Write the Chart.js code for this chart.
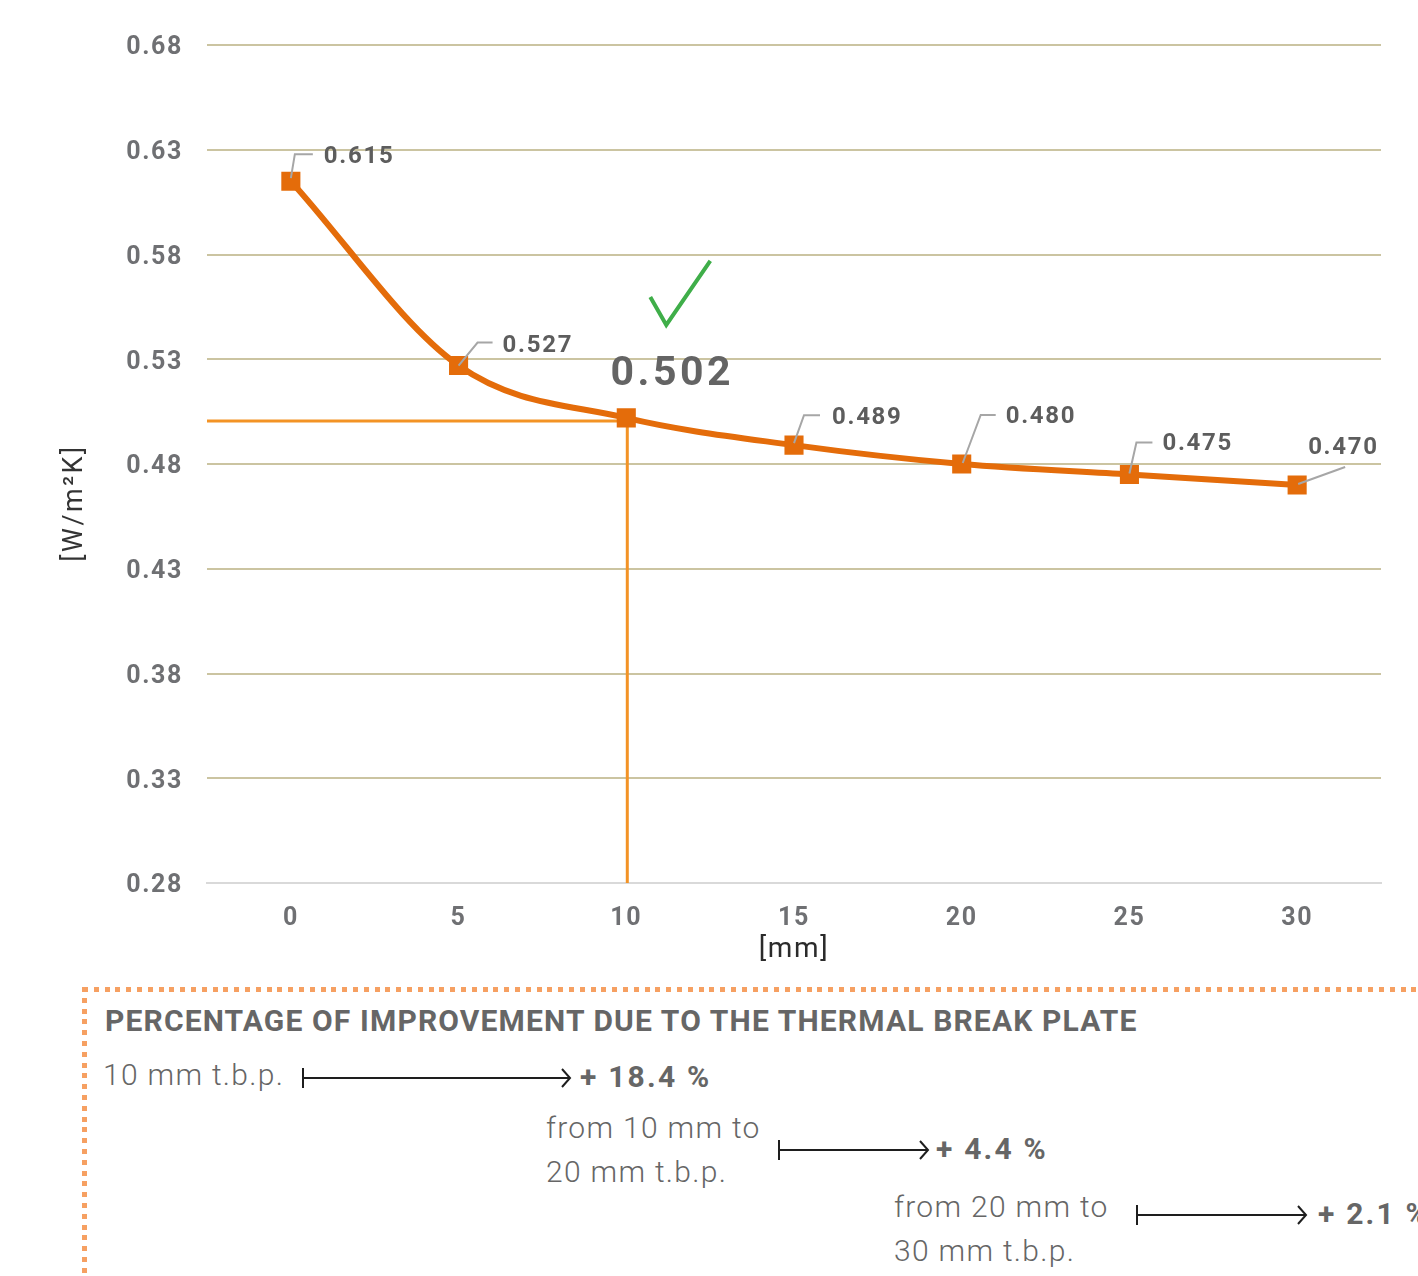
<!DOCTYPE html>
<html>
<head>
<meta charset="utf-8">
<title>Thermal transmittance vs. thermal break plate thickness</title>
<script src="https://cdn.jsdelivr.net/npm/chart.js@4.4.1/dist/chart.umd.min.js"></script>
<style>
  html, body { margin: 0; padding: 0; background: #ffffff; }
  body { width: 1418px; height: 1276px; position: relative; overflow: hidden; font-family: Roboto, "Open Sans", sans-serif; }
  #chartBox { position: absolute; left: 0; top: 0; width: 1418px; height: 975px; }
  .dots-h { position: absolute; left: 83px; top: 987px; width: 1340px; height: 5px;
    background: repeating-linear-gradient(90deg, #f6a062 0 5px, transparent 5px 10.8px); }
  .dots-v { position: absolute; left: 82px; top: 987px; width: 5px; height: 300px;
    background: repeating-linear-gradient(180deg, #f6a062 0 5px, transparent 5px 10.8px); }
  .txt { position: absolute; white-space: nowrap; color: #666666; font-size: 30px; line-height: 44px; }
  .title { font-weight: 700; letter-spacing: 1.15px; }
  .light { font-weight: 300; letter-spacing: 1.3px; }
  .pct { font-weight: 700; letter-spacing: 2.2px; }
  svg.arrows { position: absolute; left: 0; top: 0; }
</style>
</head>
<body>
<div id="chartBox"><canvas id="chart" width="1418" height="975"></canvas></div>

<div class="dots-h"></div>
<div class="dots-v"></div>
<div id="panel"></div>
<svg class="arrows" id="arrows" width="1418" height="1276"></svg>

<script>
// U-value of the assembly for each thermal break plate thickness
const thicknessLabels = ['0', '5', '10', '15', '20', '25', '30'];
const uValues = [0.615, 0.527, 0.502, 0.489, 0.480, 0.475, 0.470];
const highlightIndex = 2;           // 10 mm plate, the recommended option

// value axis range and tick step
const Y_MIN = 0.28;
const Y_MAX = 0.68;
const Y_STEP = 0.05;
const yAxisTitle = '[W/m²K]';
const xAxisTitle = '[mm]';

// improvement summary rows shown under the chart
const improvementLines = [
  ['10 mm t.b.p.'],
  ['from 10 mm to', '20 mm t.b.p.'],
  ['from 20 mm to', '30 mm t.b.p.']
];
const improvementValues = ['+ 18.4 %', '+ 4.4 %', '+ 2.1 %'];

// ---- styling ----
const LINE_ORANGE = '#e46c0a';
const GUIDE_ORANGE = '#f39325';
const GRID_KHAKI = '#cbc4a1';
const TICK_GREY = '#6f7073';
const LABEL_GREY = '#5d5d5d';

// leader lines and label placement for each point, offsets in px from the point
const labelLayout = [
  { path: [[0, -3], [4, -27], [22, -27]], text: [33, -24] },
  { path: [[0, 0], [19, -23], [34, -23]], text: [44, -20] },
  null,
  { path: [[0, -2], [10, -30], [26, -30]], text: [38, -27] },
  { path: [[1, -1], [19, -49], [34, -49]], text: [44, -47] },
  { path: [[0, -1], [7, -32], [23, -32]], text: [33, -30] },
  { path: [[1, -1], [48, -18]], text: [11, -37] }
];

Chart.defaults.font.family = 'Roboto, "Open Sans", sans-serif';

const spacingPlugin = {
  id: 'spacing',
  beforeDraw(chart) { chart.ctx.letterSpacing = '1.6px'; }
};

// 10 mm reference lines: horizontal to the axis and vertical down to the baseline
const guidePlugin = {
  id: 'guides',
  beforeDatasetsDraw(chart) {
    const { ctx, chartArea, scales } = chart;
    const x = scales.x.getPixelForValue(highlightIndex);
    const y = scales.y.getPixelForValue(uValues[highlightIndex]) + 3;
    ctx.save();
    ctx.strokeStyle = GUIDE_ORANGE;
    ctx.lineWidth = 3;
    ctx.beginPath();
    ctx.moveTo(chartArea.left, y);
    ctx.lineTo(x + 1, y);
    ctx.lineTo(x + 1, chartArea.bottom);
    ctx.stroke();
    ctx.restore();
  }
};

// rotated unit title of the value axis
const yTitlePlugin = {
  id: 'yTitle',
  afterDraw(chart) {
    const { ctx } = chart;
    ctx.save();
    ctx.letterSpacing = '2.5px';
    ctx.translate(75, 503);
    ctx.rotate(-Math.PI / 2);
    ctx.fillStyle = '#333333';
    ctx.font = '27px Roboto, "Open Sans", sans-serif';
    ctx.textAlign = 'center';
    ctx.textBaseline = 'middle';
    ctx.fillText(yAxisTitle, 0, 0);
    ctx.restore();
  }
};

// value labels with leader lines, the highlighted value and the tick mark
const labelPlugin = {
  id: 'valueLabels',
  afterDatasetsDraw(chart) {
    const { ctx } = chart;
    const pts = chart.getDatasetMeta(0).data;
    ctx.save();
    ctx.letterSpacing = '1.7px';
    pts.forEach((p, i) => {
      const lay = labelLayout[i];
      if (!lay) return;
      ctx.strokeStyle = '#a6a6a6';
      ctx.lineWidth = 2;
      ctx.beginPath();
      lay.path.forEach(([dx, dy], k) => {
        if (k === 0) ctx.moveTo(p.x + dx, p.y + dy); else ctx.lineTo(p.x + dx, p.y + dy);
      });
      ctx.stroke();
      ctx.fillStyle = LABEL_GREY;
      ctx.font = 'bold 24px Roboto, "Open Sans", sans-serif';
      ctx.textAlign = 'left';
      ctx.textBaseline = 'middle';
      ctx.fillText(uValues[i].toFixed(3), p.x + lay.text[0], p.y + lay.text[1]);
    });

    const h = pts[highlightIndex];
    ctx.letterSpacing = '3.5px';
    ctx.fillStyle = '#646464';
    ctx.font = 'bold 41px Roboto, "Open Sans", sans-serif';
    ctx.textAlign = 'center';
    ctx.textBaseline = 'middle';
    ctx.fillText(uValues[highlightIndex].toFixed(3), h.x + 46, h.y - 43);

    ctx.strokeStyle = '#3fae49';
    ctx.lineWidth = 4;
    ctx.lineJoin = 'miter';
    ctx.beginPath();
    ctx.moveTo(h.x + 24, h.y - 121);
    ctx.lineTo(h.x + 40, h.y - 93);
    ctx.lineTo(h.x + 84, h.y - 157);
    ctx.stroke();
    ctx.restore();
  }
};

new Chart(document.getElementById('chart'), {
  type: 'line',
  data: {
    labels: thicknessLabels,
    datasets: [{
      data: uValues,
      borderColor: LINE_ORANGE,
      backgroundColor: LINE_ORANGE,
      borderWidth: 6,
      cubicInterpolationMode: 'monotone',
      pointStyle: 'rect',
      pointRadius: 13.5,
      pointHoverRadius: 13.5,
      pointBorderWidth: 0,
      pointBackgroundColor: LINE_ORANGE
    }]
  },
  options: {
    responsive: false,
    animation: false,
    events: [],
    layout: { padding: { top: 45, right: 37, left: 0, bottom: 0 } },
    plugins: { legend: { display: false }, tooltip: { enabled: false } },
    scales: {
      x: {
        type: 'category',
        offset: true,
        grid: { display: false, drawTicks: false },
        border: { display: true, color: '#d9d9d9', width: 2 },
        ticks: {
          padding: 21,
          color: TICK_GREY,
          font: { size: 25, weight: 'bold' }
        },
        title: {
          display: true,
          text: xAxisTitle,
          color: '#2b2b2b',
          font: { size: 28, weight: 'normal' },
          padding: { top: 0, bottom: 8 }
        },
        afterFit(scale) { scale.height = 92; }
      },
      y: {
        min: Y_MIN,
        max: Y_MAX,
        grid: {
          drawTicks: false,
          lineWidth: 2,
          color: (c) => (c.tick && Math.abs(c.tick.value - Y_MIN) < 1e-6) ? 'rgba(0,0,0,0)' : GRID_KHAKI
        },
        border: { display: false },
        ticks: {
          stepSize: Y_STEP,
          padding: 24,
          labelOffset: 3,
          color: TICK_GREY,
          font: { size: 25, weight: 'bold' },
          callback: (v) => v.toFixed(2)
        },
        title: { display: false },
        afterFit(scale) { scale.width = 207; }
      }
    }
  },
  plugins: [spacingPlugin, guidePlugin, labelPlugin, yTitlePlugin]
});

// ---- improvement summary ----
const panel = document.getElementById('panel');
function addText(cls, text, left, centerY) {
  const d = document.createElement('div');
  d.className = 'txt ' + cls;
  d.textContent = text;
  d.style.left = left + 'px';
  d.style.top = (centerY - 22) + 'px';
  panel.appendChild(d);
}
addText('title', 'PERCENTAGE OF IMPROVEMENT DUE TO THE THERMAL BREAK PLATE', 105, 1021);

const rowLayout = [
  { textX: 103, textY: 1075, x0: 303, x1: 570, ay: 1078, pctX: 580 },
  { textX: 546, textY: 1128, x0: 779, x1: 928, ay: 1150, pctX: 936 },
  { textX: 894, textY: 1207, x0: 1137, x1: 1306, ay: 1215, pctX: 1318 }
];
const svg = document.getElementById('arrows');
const NS = 'http://www.w3.org/2000/svg';
function svgLine(x1, y1, x2, y2) {
  const l = document.createElementNS(NS, 'polyline');
  l.setAttribute('points', Array.isArray(x1) ? x1.join(' ') : `${x1},${y1} ${x2},${y2}`);
  l.setAttribute('fill', 'none');
  l.setAttribute('stroke', '#1e1e1e');
  l.setAttribute('stroke-width', '2');
  svg.appendChild(l);
}
improvementLines.forEach((lines, i) => {
  const r = rowLayout[i];
  lines.forEach((t, k) => addText('light', t, r.textX, r.textY + k * 44));
  svgLine(r.x0, r.ay, r.x1, r.ay);
  svgLine(r.x0, r.ay - 10, r.x0, r.ay + 10);
  svgLine([`${r.x1 - 8},${r.ay - 9}`, `${r.x1},${r.ay}`, `${r.x1 - 8},${r.ay + 9}`]);
  addText('pct', improvementValues[i], r.pctX, r.ay - 1);
});
</script>
</body>
</html>
